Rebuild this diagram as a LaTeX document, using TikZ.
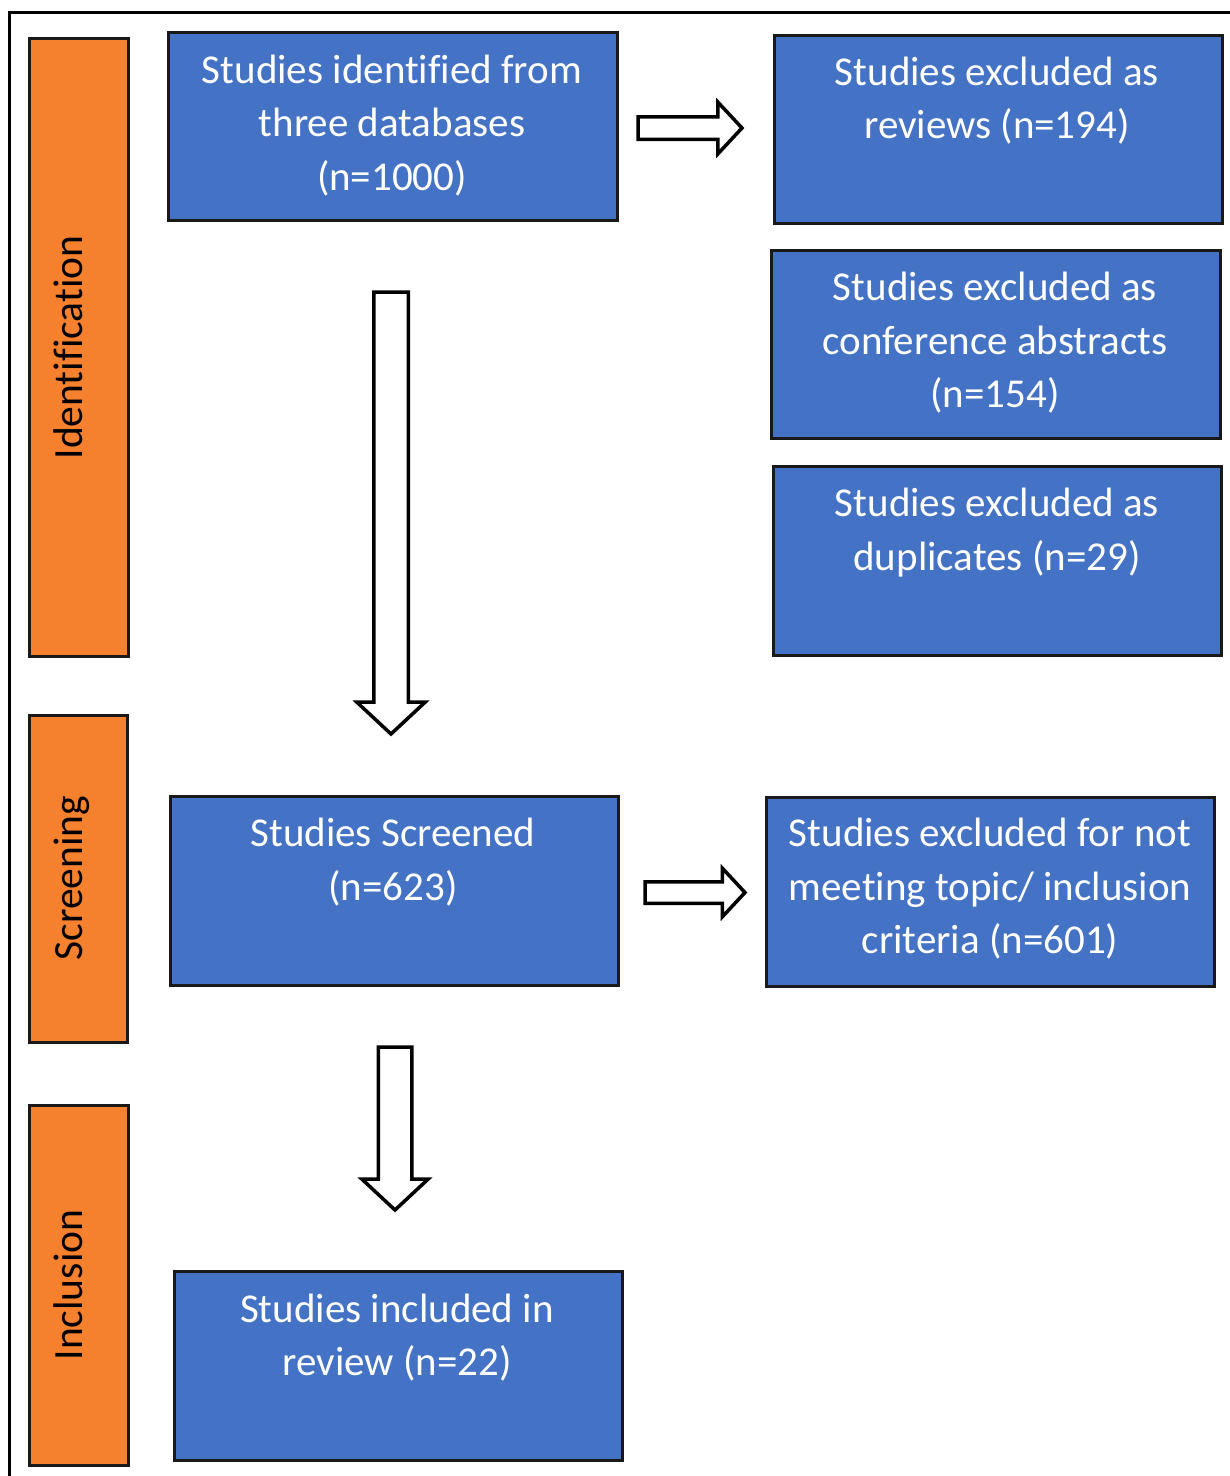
\documentclass[tikz,border=0pt]{standalone}
\usepackage{fontspec}
\setmainfont{Carlito}[Ligatures={NoCommon}]
\usetikzlibrary{shapes.arrows}
\definecolor{boxblue}{RGB}{68,114,196}
\definecolor{stageorange}{RGB}{245,128,46}
\definecolor{edgedark}{RGB}{25,25,25}
\begin{document}
\begin{tikzpicture}[x=1pt,y=-1pt,
  bluebox/.style={draw=edgedark, fill=boxblue, line width=3pt, anchor=north west, inner sep=0pt, outer sep=0pt},
  stagebox/.style={draw=edgedark, fill=stageorange, line width=3pt, anchor=north west, inner sep=0pt, outer sep=0pt},
  boxtext/.style={text=white, align=center, font=\fontsize{41}{53.5}\selectfont, inner sep=0pt},
  stagetext/.style={text=black, rotate=90, anchor=base, font=\fontsize{41.5}{48}\selectfont, inner sep=0pt},
  blockarrow/.style={single arrow, draw=black, fill=white, line width=3.5pt, single arrow head indent=0pt, single arrow tip angle=94, text height=0pt, text depth=0pt, outer sep=0pt, anchor=tail},
  frameline/.style={draw=black, line width=3pt}
]
\useasboundingbox (0,0) rectangle (1230,1476);

% outer frame
\coordinate (fbl) at (9,1476);
\coordinate (ftl) at (9,12);
\coordinate (ftr) at (1230,12);
\draw[frameline] (fbl) -- (ftl) -- (ftr);

% stage boxes
\node[stagebox, minimum width=99pt, minimum height=618pt] (ident) at (29,38) {};
\node[stagebox, minimum width=98pt, minimum height=327pt] (screen) at (29,715) {};
\node[stagebox, minimum width=99pt, minimum height=360pt] (incl) at (29,1105) {};
\node[stagetext] (identL) at (82,347.5) {Identification};
\node[stagetext] (screenL) at (82,878) {Screening};
\node[stagetext] (inclL) at (82,1285) {Inclusion};

% blue boxes
\node[bluebox, minimum width=449pt, minimum height=188pt] (b1) at (168,32) {};
\node[bluebox, minimum width=448pt, minimum height=188pt] (r1) at (774,35) {};
\node[bluebox, minimum width=449pt, minimum height=188pt] (r2) at (771,250) {};
\node[bluebox, minimum width=448pt, minimum height=189pt] (r3) at (773,466) {};
\node[bluebox, minimum width=448pt, minimum height=189pt] (b2) at (170,796) {};
\node[bluebox, minimum width=448pt, minimum height=189pt] (r4) at (766,797) {};
\node[bluebox, minimum width=448pt, minimum height=189pt] (b3) at (174,1271) {};

% box texts
\node[boxtext] (b1t) at (392,125.5) {Studies identified from\\three databases\\(n=1000)};
\node[boxtext] (r1t) at (997,100.5) {Studies excluded as\\reviews (n=194)};
\node[boxtext] (r2t) at (995,343) {Studies excluded as\\conference abstracts\\(n=154)};
\node[boxtext] (r3t) at (997,532.5) {Studies excluded as\\duplicates (n=29)};
\node[boxtext] (b2t) at (393,862) {Studies Screened\\(n=623)};
\node[boxtext] (r4t) at (990,889) {Studies excluded for not\\meeting topic/ inclusion\\criteria (n=601)};
\node[boxtext] (b3t) at (397,1337.5) {Studies included in\\review (n=22)};

% block arrows
\node[blockarrow, minimum height=104pt, minimum width=48pt, inner xsep=0pt, inner ysep=9.5pt, single arrow head extend=14.5pt] (a1) at (638,128) {};
\node[blockarrow, shape border rotate=270, minimum height=442pt, minimum width=65pt, inner ysep=0pt, inner xsep=15.5pt, single arrow head extend=17pt] (a2) at (391,292) {};
\node[blockarrow, minimum height=100pt, minimum width=45pt, inner xsep=0pt, inner ysep=9pt, single arrow head extend=13.5pt] (a3) at (645,892.5) {};
\node[blockarrow, shape border rotate=270, minimum height=163pt, minimum width=63pt, inner ysep=0pt, inner xsep=15pt, single arrow head extend=16.5pt] (a4) at (395,1047) {};
\end{tikzpicture}
\end{document}
